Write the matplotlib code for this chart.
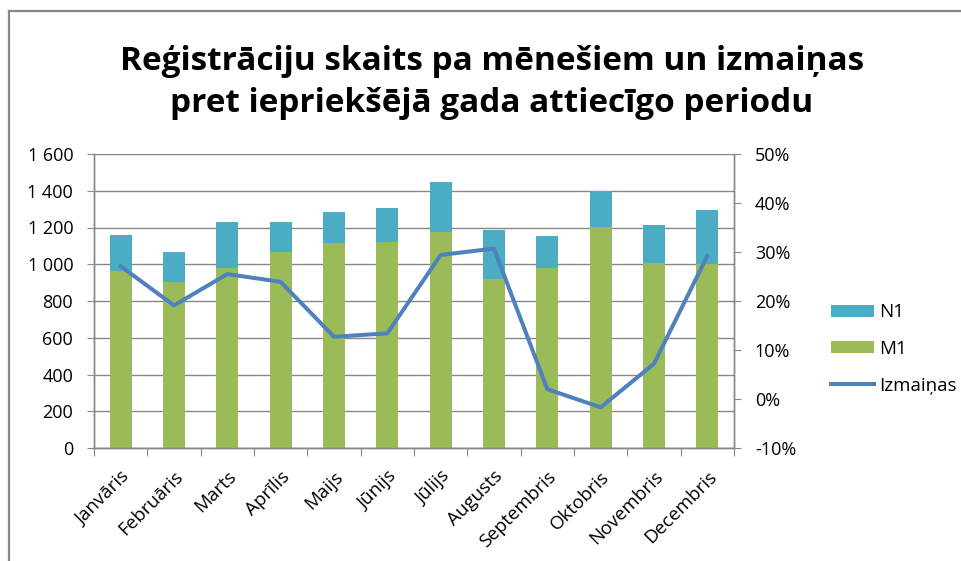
import matplotlib
matplotlib.use("Agg")
import matplotlib.pyplot as plt
import numpy as np
from matplotlib.ticker import FuncFormatter
from matplotlib.patches import Patch
from matplotlib.lines import Line2D

plt.rcParams['font.family'] = ['Open Sans', 'DejaVu Sans']

months = ["Janvāris", "Februāris", "Marts", "Aprīlis", "Maijs", "Jūnijs",
          "Jūlijs", "Augusts", "Septembris", "Oktobris", "Novembris", "Decembris"]
m1 = [965, 902, 978, 1065, 1116, 1123, 1177, 920, 978, 1203, 1005, 1001]
totals = [1158, 1065, 1228, 1228, 1286, 1304, 1449, 1186, 1152, 1399, 1215, 1297]
n1 = [t - m for t, m in zip(totals, m1)]
izmainas = [27.1, 19.1, 25.5, 23.9, 12.7, 13.4, 29.4, 30.7, 2.0, -1.7, 7.2, 29.2]
left_ticks = [0, 200, 400, 600, 800, 1000, 1200, 1400, 1600]
right_ticks = [-10, 0, 10, 20, 30, 40, 50]

W, H = 962, 561
fig = plt.figure(figsize=(W / 100, H / 100), dpi=100)
fig.patch.set_facecolor('white')

L, R, T, B = 94, 734, 154, 448
ax = fig.add_axes([L / W, 1 - B / H, (R - L) / W, (B - T) / H])
ax2 = ax.twinx()

gray = '#868686'
c_n1 = '#4BACC6'
c_m1 = '#9BBB59'
c_line = '#4F81BD'
fs = 13

x = np.arange(len(months))
bw = 0.41
ax.bar(x, m1, width=bw, color=c_m1, zorder=2)
ax.bar(x, n1, width=bw, bottom=m1, color=c_n1, zorder=2)

ax.set_xlim(-0.5, len(months) - 0.5)
ax.set_ylim(0, 1600)
ax.set_yticks(left_ticks)
ax.yaxis.set_major_formatter(FuncFormatter(lambda v, p: f"{int(v):,}".replace(",", " ")))
ax.grid(axis='y', color=gray, linewidth=1.0, zorder=0)
ax.set_axisbelow(True)

ax.set_xticks(np.arange(-0.5, len(months), 1.0))
ax.set_xticklabels([])
ax.set_xticks(x, minor=True)
ax.set_xticklabels(months, minor=True, rotation=45, ha='right', va='top',
                   rotation_mode='anchor', fontsize=13.5)
ax.tick_params(axis='x', which='minor', length=0, pad=14)
ax.tick_params(axis='x', which='major', length=5.5, color=gray, direction='out')
ax.tick_params(axis='y', length=5, color=gray, labelsize=fs, pad=10)

ax2.plot(x, izmainas, color=c_line, linewidth=2.9, zorder=3)
ax2.set_ylim(-10, 50)
ax2.set_yticks(right_ticks)
ax2.yaxis.set_major_formatter(FuncFormatter(lambda v, p: f"{int(v)}%"))
ax2.tick_params(axis='y', length=5, color=gray, labelsize=fs, pad=10)

for a in (ax, ax2):
    a.spines['top'].set_visible(False)
    for s in ('left', 'right', 'bottom'):
        a.spines[s].set_color(gray)
        a.spines[s].set_linewidth(1.0)

fig.text(492 / W, 1 - 61 / H, "Reģistrāciju skaits pa mēnešiem un izmaiņas",
         ha='center', va='center', fontsize=24, fontweight='bold')
fig.text(492 / W, 1 - 103 / H, "pret iepriekšējā gada attiecīgo periodu",
         ha='center', va='center', fontsize=24, fontweight='bold')

handles = [Patch(facecolor=c_n1, edgecolor='none'),
           Patch(facecolor=c_m1, edgecolor='none'),
           Line2D([0], [0], color=c_line, linewidth=2.9)]
fig.legend(handles, ["N1", "M1", "Izmaiņas"], loc='center left',
           bbox_to_anchor=(816 / W, 1 - 349 / H), frameon=False, fontsize=13.5,
           handlelength=2.3, handleheight=0.6, labelspacing=1.0, handletextpad=0.25,
           borderpad=0.3)

# chart border (top and left)
fig.add_artist(Line2D([8.5 / W, 8.5 / W], [0, 1 - 11 / H], transform=fig.transFigure,
                      color='#888888', linewidth=1.6))
fig.add_artist(Line2D([8.5 / W, 1.0], [1 - 11 / H, 1 - 11 / H], transform=fig.transFigure,
                      color='#888888', linewidth=1.6))

fig.savefig("out.png", dpi=100, facecolor='white')
